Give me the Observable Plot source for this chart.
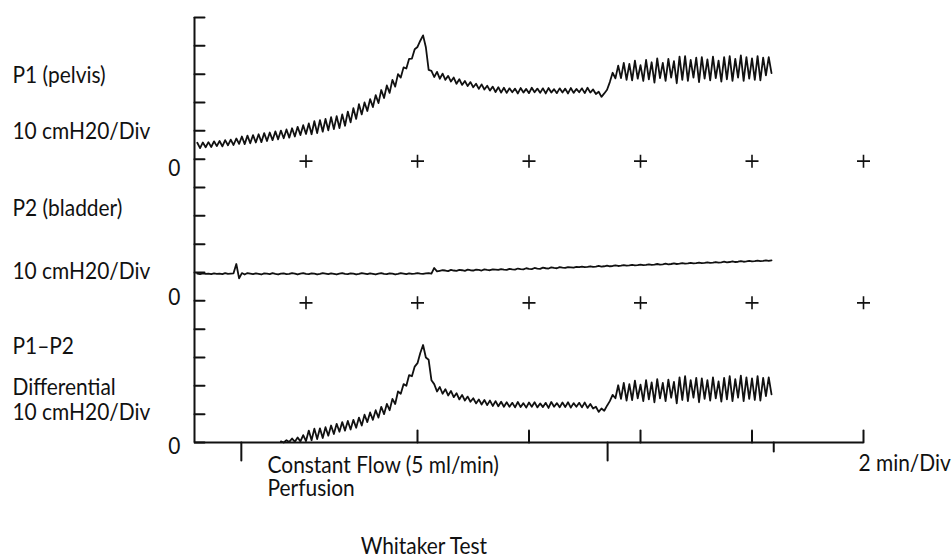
<!DOCTYPE html>
<html>
<head>
<meta charset="utf-8">
<script src="https://cdn.jsdelivr.net/npm/d3@7"></script>
<script src="https://cdn.jsdelivr.net/npm/@observablehq/plot@0.6"></script>
<style>
  body { margin: 0; background: #fff; }
  svg { display: block; }
</style>
</head>
<body>
<div id="chart"></div>
<script>
// ---------------- DATA ----------------
// Values in cmH2O (10 cmH2O per division).
const t0 = 0.05;
const dt = 0.05;

const p1Pelvis = [
  5.8, 3.9, 5.9, 4.2, 6.0, 4.3, 6.3, 4.6, 6.4, 4.5, 6.7, 4.9, 6.9, 5.0, 7.3, 5.4,
  8.0, 5.3, 8.3, 5.6, 8.5, 5.9, 8.8, 6.0, 9.2, 6.4, 9.4, 6.7, 9.8, 7.0, 10.1, 7.4, 10.5, 7.6, 10.9, 8.0, 11.4, 8.5, 12.0, 8.9, 12.6,
  8.8, 13.4, 9.2, 13.8, 9.7, 14.2, 10.2, 14.8, 10.6, 15.2, 11.0, 15.8, 11.8, 16.8, 13.0, 18.0, 14.2, 19.4,
  15.8, 20.0, 17.0, 21.2, 18.4, 22.6, 19.8, 24.4, 21.6, 26.0, 23.4, 28.0, 25.6, 30.0,
  28.8, 32.4, 32.0, 35.4, 35.5, 38.8, 39.6,
  41.8, 43.7, 39.5, 31.5, 31.2,
  29.0, 30.8, 28.4, 30.2, 28.0, 29.4, 27.4, 28.8, 26.6, 28.2, 26.2, 27.6, 25.8, 27.2, 25.4, 26.6, 24.8, 26.4, 24.6, 25.9, 24.2, 25.6, 23.7, 25.4, 23.5, 25.2,
  23.4, 25.0, 23.6, 24.9, 23.2, 25.1, 23.5, 24.8, 23.3, 25.2, 23.6, 24.9, 23.4, 25.0, 23.2, 25.1, 23.5, 24.7, 23.3, 25.0,
  23.5, 24.9, 23.2, 25.1, 23.4, 24.8, 23.6, 25.0, 23.3, 25.2, 23.5, 24.6, 23.0, 23.8, 22.0, 23.2,
  24.5, 27.2, 30.5, 28.5,
  33.0, 28.6, 34.0, 28.0, 33.6, 27.8, 34.8, 28.4, 33.2, 27.6, 35.0, 28.2, 34.2, 27.0, 35.6, 28.6, 34.0, 27.6, 35.4, 28.8,
  34.6, 26.8, 36.2, 28.0, 36.4, 27.6, 35.0, 28.8, 35.8, 27.2, 36.0, 28.4, 35.2, 27.8, 36.2, 28.6, 34.8, 27.4, 36.0, 28.2,
  36.4, 27.6, 35.4, 28.8, 36.6, 27.6, 36.0, 28.4, 35.6, 28.0, 36.4, 27.8, 35.8, 29.6, 36.0, 30.4
];

const p2Bladder = [
  9.6, 9.4, 9.7, 9.5, 9.6, 9.4, 9.7, 9.5, 9.6, 9.4, 9.8, 9.5, 9.6, 9.7,
  13.0, 7.9, 9.8,
  9.3, 9.8, 9.6, 9.4, 9.7, 9.5, 9.3, 9.7, 9.6, 9.4,
  9.8, 9.5, 9.3, 9.6, 9.7, 9.4, 9.5, 9.8, 9.6, 9.3,
  9.6, 9.8, 9.5, 9.4, 9.7, 9.6, 9.3, 9.5, 9.8, 9.6,
  9.4, 9.7, 9.5, 9.3, 9.6, 9.8, 9.5, 9.4, 9.7, 9.6,
  9.3, 9.5, 9.8, 9.6, 9.4, 9.7, 9.5, 9.3, 9.6, 9.8,
  9.5, 9.4, 9.7, 9.6, 9.3, 9.5, 9.8, 9.6, 9.4, 9.7,
  9.5, 9.6, 9.8, 9.6, 9.5, 9.7, 9.8, 9.6,
  11.6, 10.4,
  10.6, 10.8, 10.7, 10.5, 10.9, 10.7, 10.6, 10.9, 10.8, 10.6,
  11.0, 10.8, 10.7, 11.0, 10.9, 10.7, 11.1, 10.9, 10.8, 11.1,
  11.0, 10.9, 11.2, 11.0, 10.9, 11.3, 11.1, 11.0, 11.4, 11.2,
  11.1, 11.5, 11.3, 11.2, 11.6, 11.4, 11.3, 11.7, 11.5, 11.4,
  11.8, 11.6, 11.5, 11.9, 11.7, 11.6, 11.9, 11.8, 11.7, 12.0,
  11.9, 12.1, 11.9, 12.0, 12.2, 12.0, 12.1, 12.3, 12.1, 12.2,
  12.4, 12.2, 12.3, 12.5, 12.3, 12.4, 12.6, 12.4, 12.5, 12.7,
  12.5, 12.6, 12.8, 12.6, 12.7, 12.9, 12.7, 12.8, 13.0, 12.8,
  12.9, 13.1, 12.9, 13.0, 13.2, 13.0, 13.1, 13.3, 13.1, 13.2,
  13.4, 13.2, 13.3, 13.5, 13.3, 13.4, 13.6, 13.4, 13.5, 13.7,
  13.5, 13.6, 13.8, 13.6, 13.7, 13.9, 13.7, 13.8, 14.0, 13.8,
  13.9, 14.1, 13.9, 14.0, 14.2, 14.0, 14.1, 14.3, 14.1, 14.3
];

const p1MinusP2 = [
  null, null, null, null, null, null, null, null, null, null,
  null, null, null, null, null, null, null, null, null, null,
  null, null, null, null, null, null, null, null, null, null,
  0.4, 0.0, 0.8, 0.2, 1.4, 0.3, 1.8, 0.4, 2.6, 0.5,
  4.2, 0.8, 4.9, 1.2, 5.0, 1.6, 5.4, 2.4, 6.0, 3.0, 6.6,
  3.8, 7.2, 4.2, 7.6, 4.6, 8.0, 5.2, 8.8, 6.0,
  9.8, 7.2, 10.6, 8.0, 11.4, 8.8, 12.6, 10.0, 13.6, 11.4, 15.4, 13.6, 18.0,
  17.2, 20.6, 20.0, 23.8, 23.4, 26.8, 28.0, 31.6,
  34.4, 30.0, 29.2, 22.0, 20.6,
  18.0, 19.6, 17.2, 18.8, 16.6, 18.2, 16.0, 17.4, 15.2, 16.8, 14.8, 16.2, 14.4, 15.6, 13.8, 15.2, 13.4, 15.0, 13.2, 14.8, 12.9, 14.6, 12.8, 14.4, 12.6,
  14.2, 12.6, 14.0, 12.4, 14.3, 12.5, 13.9, 12.3, 14.1, 12.6,
  14.2, 12.4, 13.8, 12.5, 14.0, 12.2, 14.3, 12.6, 13.9, 12.4,
  14.1, 12.5, 14.2, 12.3, 13.9, 12.6, 14.0, 12.4, 14.1, 12.2,
  13.6, 12.0, 12.6, 10.8, 12.0, 11.2,
  13.0, 14.6, 16.8, 15.6,
  20.2, 15.4, 21.0, 14.8, 20.6, 15.0, 21.8, 15.6, 20.4, 14.6,
  22.0, 15.2, 21.2, 14.2, 22.4, 15.6, 21.0, 14.6, 22.2, 15.8,
  21.4, 13.8, 23.0, 15.0, 23.4, 14.6, 22.0, 15.8, 22.8, 14.2,
  22.6, 15.4, 22.0, 14.8, 23.0, 15.6, 21.6, 14.4, 22.8, 15.2,
  23.4, 14.6, 22.4, 15.8, 23.6, 14.6, 23.0, 15.4, 22.6, 15.0,
  23.4, 14.8, 22.8, 16.4, 23.0, 17.0
];

// Each trace sits on its own zero level of the shared stacked axis (cmH2O).
const seriesNames = ["P1 (pelvis)", "P2 (bladder)", "P1-P2"];
const seriesZero = [100, 50, 0];

// Axis ticks and markers
const yTicks = [0, 10, 20, 30, 40, 50, 60, 70, 80, 90, 100, 110, 120, 130, 140, 150];
const zeroLevels = [0, 50, 100];
const gridMinutes = [2, 4, 6, 8, 10, 12];          // "+" marks on the zero lines
const timeTicks = [4, 6, 8, 10, 12];               // upward ticks on time axis
const eventMarks = [0.84, 7.41];                   // long downward ticks
const eventMarksShort = [10.39];                   // short downward tick

// Labels
const leftLabels = ["P1 (pelvis)", "10 cmH20/Div", "P2 (bladder)", "10 cmH20/Div", "P1\u2013P2", "Differential", "10 cmH20/Div"];
const bottomLabels = ["Constant Flow (5 ml/min)\nPerfusion", "2 min/Div"];
const titleText = "Whitaker Test";

// ---------------- LAYOUT (data-space positions of annotations) ----------------
const leftLabelX = -3.265;
const leftLabelY = [129.4, 109.8, 82.4, 60.2, 33.9, 19.3, 10.4];
const zeroLabelY = [-1.4, 51.0, 96.6];
const bottomLabelX = [1.31, 11.91];
const bottomLabelY = [-12.3, -7.5];
const titleX = 2.98, titleY = -36.6;
const FONT = 23;
const TEXT_SQUEEZE = 0.91;

// ---------------- BUILD ----------------
const traces = [p1Pelvis, p2Bladder, p1MinusP2];
const rows = traces.flatMap((vals, s) =>
  vals.map((v, i) => ({
    t: t0 + dt * i,
    v: v == null ? NaN : v + seriesZero[s],
    series: seriesNames[s]
  }))
);

const tickLine = { draw(ctx, l) { ctx.moveTo(0, 0); ctx.lineTo(0, -l); } };
const plusSymbol = {
  draw(ctx, size) {
    const r = Math.sqrt(size / Math.PI);
    ctx.moveTo(-r, 0); ctx.lineTo(r, 0);
    ctx.moveTo(0, -r); ctx.lineTo(0, r);
  }
};
const plusPoints = [50, 100].flatMap(z => gridMinutes.map(m => ({ m, z })));

const chart = Plot.plot({
  width: 952,
  height: 558,
  marginLeft: 194,
  marginRight: 89,
  marginTop: 17,
  marginBottom: 116,
  x: { domain: [0, 12], axis: null },
  y: { domain: [0, 150], axis: null },
  style: { fontFamily: "Lato, 'Open Sans', sans-serif", background: "#fff", color: "#111" },
  marks: [
    // axes frame
    Plot.ruleX([0], { y1: 0, y2: 150, stroke: "#111", strokeWidth: 2 }),
    Plot.ruleY([0], { x1: 0, x2: 12, stroke: "#111", strokeWidth: 2 }),
    // left ticks pointing right
    Plot.vector(yTicks, { x: () => 0, y: d => d, length: 10, rotate: 90, anchor: "start", shape: tickLine, stroke: "#111", strokeWidth: 2 }),
    // time axis ticks
    Plot.vector(timeTicks, { x: d => d, y: () => 0, length: 12, rotate: 0, anchor: "start", shape: tickLine, stroke: "#111", strokeWidth: 2 }),
    Plot.vector(eventMarks, { x: d => d, y: () => 0, length: 18, rotate: 180, anchor: "start", shape: tickLine, stroke: "#111", strokeWidth: 2 }),
    Plot.vector(eventMarksShort, { x: d => d, y: () => 0, length: 9, rotate: 180, anchor: "start", shape: tickLine, stroke: "#111", strokeWidth: 2 }),
    // plus marks
    Plot.dot(plusPoints, { x: "m", y: "z", dy: 2, r: 6.5, symbol: plusSymbol, fill: "none", stroke: "#111", strokeWidth: 1.6 }),
    // traces
    Plot.line(rows, { x: "t", y: "v", z: "series", stroke: "#111", strokeWidth: 1.8, strokeLinejoin: "round" }),
    // zero labels
    Plot.text(zeroLevels, { x: () => 0, y: (d, i) => zeroLabelY[i], text: () => "0", dx: -14, textAnchor: "end", fontSize: FONT, fill: "#111" }),
    // left labels
    Plot.text(leftLabels, { x: () => leftLabelX, y: (d, i) => leftLabelY[i], text: d => d, textAnchor: "start", fontSize: FONT, fill: "#111" }),
    // bottom labels
    Plot.text(bottomLabels, { x: (d, i) => bottomLabelX[i], y: (d, i) => bottomLabelY[i], text: d => d, textAnchor: "start", lineHeight: 1.01, fontSize: FONT, fill: "#111" }),
    // title
    Plot.text([titleText], { x: () => titleX, y: () => titleY, text: d => d, textAnchor: "start", fontSize: FONT, fill: "#111" })
  ]
});

// Condensed look of the original typeface: squeeze glyphs horizontally around each text's anchor.
d3.select(chart).selectAll("text").attr("transform", function () {
  const t = this.getAttribute("transform") || "";
  return `${t} scale(${TEXT_SQUEEZE},1)`;
});

document.getElementById("chart").appendChild(chart);
</script>
</body>
</html>
